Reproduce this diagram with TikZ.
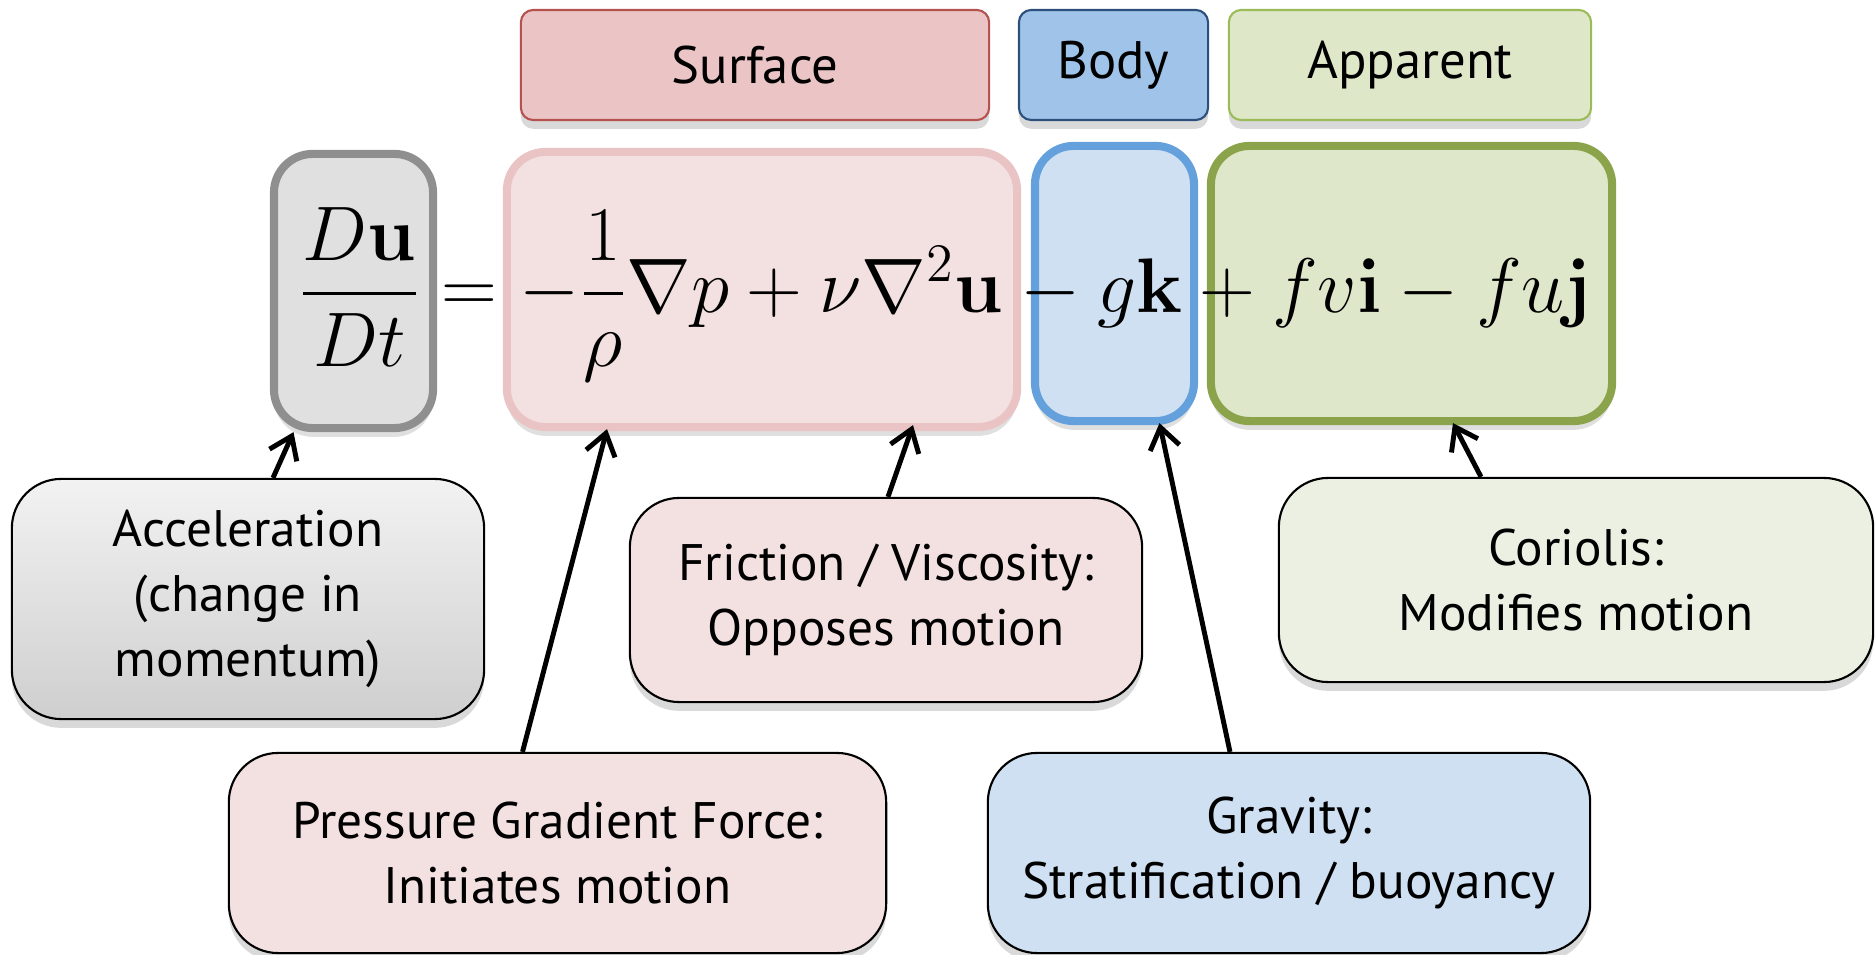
\RequirePackage{fix-cm}
\documentclass[tikz,border=0pt]{standalone}
\usepackage[no-math]{fontspec}
\usepackage{amsmath}
\usetikzlibrary{arrows.meta,positioning,calc,shadows}
\newfontfamily\notefont{PT Sans}
\definecolor{SurfTag}{HTML}{EBC5C5}
\definecolor{SurfTagEdge}{HTML}{B5524F}
\definecolor{BodyTag}{HTML}{A0C3E9}
\definecolor{BodyTagEdge}{HTML}{2C4F7C}
\definecolor{AppTag}{HTML}{DFE7C9}
\definecolor{AppTagEdge}{HTML}{9BBB59}
\definecolor{AccFill}{HTML}{E0E0E0}
\definecolor{AccEdge}{HTML}{8F8F8F}
\definecolor{SurfFill}{HTML}{F3E0E0}
\definecolor{SurfEdge}{HTML}{EAC4C4}
\definecolor{BodyFill}{HTML}{CFE0F2}
\definecolor{BodyEdge}{HTML}{64A0DC}
\definecolor{AppFill}{HTML}{DEE7C9}
\definecolor{AppEdge}{HTML}{8BA44C}
\definecolor{NoteGreen}{HTML}{EBF0E2}

\begin{document}
\begin{tikzpicture}[x=0.01cm,y=-0.01cm]
    \tikzset{
      tagbox/.style={rounded corners=3.5pt,line width=0.6pt,inner sep=0pt,minimum height=1.1cm,
        font=\notefont\fontsize{15}{18}\selectfont,
        drop shadow={shadow xshift=0pt,shadow yshift=-2.5pt,opacity=0.3}},
      termbox/.style={rounded corners=11pt,line width=2.3pt,inner sep=0pt,minimum height=2.75cm,
        drop shadow={shadow xshift=0pt,shadow yshift=-2.5pt,opacity=0.25}},
      notebox/.style={rounded corners=14pt,draw=black,line width=0.6pt,inner sep=0pt,align=center,
        font=\notefont\fontsize{14.6}{18.4}\selectfont,
        drop shadow={shadow xshift=0pt,shadow yshift=-2.5pt,opacity=0.3}},
      pointer/.style={-{Straight Barb[length=6pt,width=8.5pt]},line width=1.4pt}
    }
    \useasboundingbox (0,0) rectangle (1875,955);
    \node[tagbox,fill=SurfTag,draw=SurfTagEdge,minimum width=4.68cm] (lsurf) at (755,65) {Surface};
    \node[tagbox,fill=BodyTag,draw=BodyTagEdge,minimum width=1.89cm] (lbody) at (1113.5,65) {Body};
    \node[tagbox,fill=AppTag,draw=AppTagEdge,minimum width=3.62cm] (lapp) at (1410,65) {Apparent};
    \node[termbox,fill=AccFill,draw=AccEdge,minimum width=1.59cm,minimum height=2.74cm] (acc) at (353.5,291) {};
    \node[termbox,fill=SurfFill,draw=SurfEdge,minimum width=5.1cm] (surf) at (762,289.5) {};
    \node[termbox,fill=BodyFill,draw=BodyEdge,minimum width=1.59cm] (body) at (1114.5,283.5) {};
    \node[termbox,fill=AppFill,draw=AppEdge,minimum width=4.01cm] (app) at (1411.5,283.5) {};
    \node[anchor=base west,inner sep=0pt,font=\fontsize{22}{27}\selectfont] (eqn) at (298,313)
      {$\displaystyle \frac{D\mathbf{u}}{Dt} = -\frac{1}{\rho}\nabla p + \nu\nabla^2\mathbf{u} - g\mathbf{k} + fv\mathbf{i} - fu\mathbf{j}$};
    \node[notebox,top color=gray!10,bottom color=gray!38,minimum width=4.72cm,minimum height=2.4cm] (nacc) at (248,599) {Acceleration\\(change in\\momentum)};
    \node[notebox,fill=SurfFill,minimum width=5.12cm,minimum height=2.04cm] (nfric) at (886,600) {Friction / Viscosity:\\Opposes motion};
    \node[notebox,fill=SurfFill,minimum width=6.57cm,minimum height=2cm] (npgf) at (557.5,853) {Pressure Gradient Force:\\Initiates motion};
    \node[notebox,fill=BodyFill,minimum width=6.02cm,minimum height=2cm] (ngrav) at (1289,853) {Gravity:\\Stratification / buoyancy};
    \node[notebox,fill=NoteGreen,minimum width=5.94cm,minimum height=2.04cm] (ncor) at (1576,580) {Coriolis:\\Modifies motion};
    \draw[pointer] ($(nacc.north)+(25,0)$) -- ($(acc.south)+(-60,0)$);
    \draw[pointer] ($(npgf.north)+(-35,0)$) -- ($(surf.south)+(-155,-2)$);
    \draw[pointer] ($(nfric.north)+(2,0)$) -- ($(surf.south)+(151,-6)$);
    \draw[pointer] ($(ngrav.north)+(-59,0)$) -- ($(body.south)+(45,-2)$);
    \draw[pointer] ($(ncor.north)+(-95,0)$) -- ($(app.south)+(41.5,-2)$);
  \end{tikzpicture}
\end{document}
